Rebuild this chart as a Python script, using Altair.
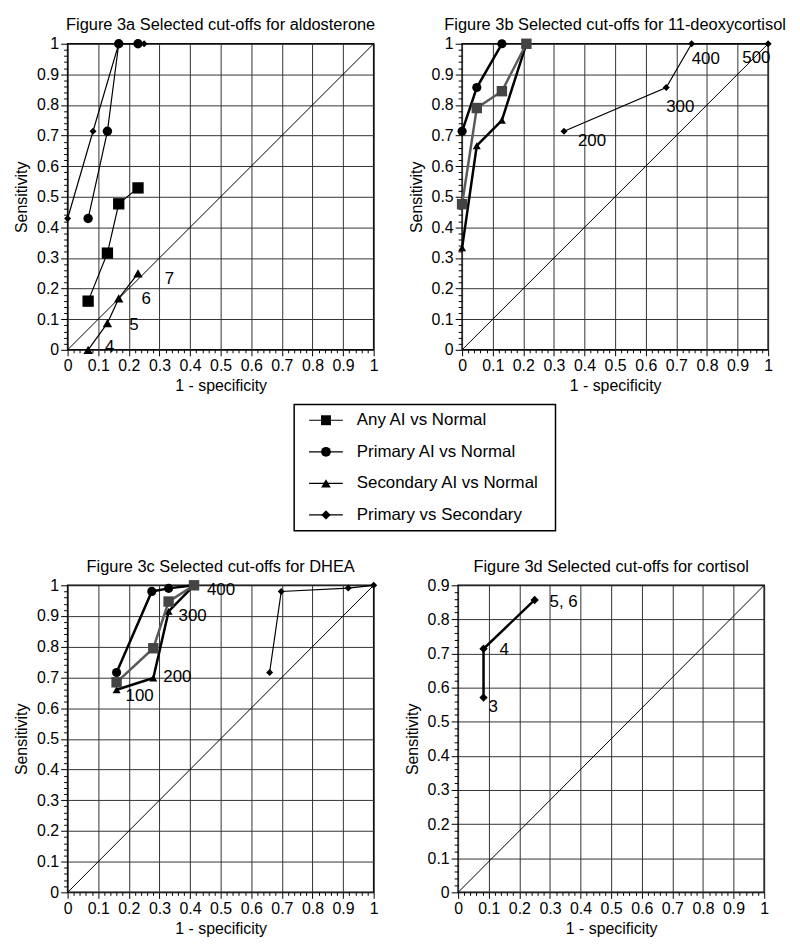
import altair as alt
import pandas as pd

FONT = "Liberation Sans"

SERIES = ["Any AI vs Normal", "Primary AI vs Normal", "Secondary AI vs Normal", "Primary vs Secondary"]
SHAPES = ["square", "circle", "triangle-up", "diamond"]

TITLE_A = "Figure 3a Selected cut-offs for aldosterone"
TITLE_B = "Figure 3b Selected cut-offs for 11-deoxycortisol"
TITLE_C = "Figure 3c Selected cut-offs for DHEA"
TITLE_D = "Figure 3d Selected cut-offs for cortisol"

# ---- Figure 3a: aldosterone ----
A_ANY_X = [0.067, 0.13, 0.167, 0.23]
A_ANY_Y = [0.159, 0.316, 0.477, 0.529]
A_PRI_X = [0.067, 0.13, 0.167, 0.23]
A_PRI_Y = [0.429, 0.714, 1.0, 1.0]
A_SEC_X = [0.067, 0.13, 0.167, 0.23]
A_SEC_Y = [0.0, 0.087, 0.168, 0.25]
A_SEC_LABELS = ["4", "5", "6", "7"]
A_PVS_X = [0.0, 0.083, 0.167, 0.25]
A_PVS_Y = [0.429, 0.714, 1.0, 1.0]

# ---- Figure 3b: 11-deoxycortisol ----
B_ANY_X = [0.0, 0.048, 0.13, 0.21]
B_ANY_Y = [0.476, 0.79, 0.845, 1.0]
B_PRI_X = [0.0, 0.048, 0.13]
B_PRI_Y = [0.714, 0.857, 1.0]
B_SEC_X = [0.0, 0.048, 0.13, 0.21]
B_SEC_Y = [0.333, 0.667, 0.75, 1.0]
B_PVS_X = [0.333, 0.667, 0.75, 1.0]
B_PVS_Y = [0.714, 0.857, 1.0, 1.0]
B_PVS_LABELS = ["200", "300", "400", "500"]

# ---- Figure 3c: DHEA ----
C_ANY_X = [0.16, 0.28, 0.33, 0.413]
C_ANY_Y = [0.684, 0.795, 0.947, 1.0]
C_PRI_X = [0.16, 0.275, 0.33, 0.413]
C_PRI_Y = [0.716, 0.98, 0.99, 1.0]
C_SEC_X = [0.16, 0.28, 0.33, 0.413]
C_SEC_Y = [0.66, 0.698, 0.915, 1.0]
C_SEC_LABELS = ["100", "200", "300", "400"]
C_PVS_X = [0.66, 0.698, 0.917, 1.0]
C_PVS_Y = [0.716, 0.98, 0.991, 1.0]

# ---- Figure 3d: cortisol ----
D_PVS_X = [0.083, 0.083, 0.25]
D_PVS_Y = [0.571, 0.714, 0.857]
D_PVS_LABELS = ["3", "4", "5, 6"]

TICKS_1 = [round(i * 0.02, 2) for i in range(51)]
TICKS_09 = [round(i * 0.02, 2) for i in range(46)]

MAJOR = "abs(round(datum.value * 50)) % 5 === 0"

PW = 308
PH = 308


def make_axis(title, values, orient):
    return alt.Axis(
        title=title,
        values=values,
        format="~g",
        labelExpr=MAJOR + " ? datum.label : ''",
        tickSize={"condition": {"test": MAJOR, "value": 7 if orient == "left" else 6}, "value": 4 if orient == "left" else 3},
        gridOpacity={"condition": {"test": MAJOR, "value": 1}, "value": 0},
        labelOverlap=False,
        labelFlush=False,
        labelPadding=2,
        titlePadding=7 if orient == "left" else 4,
        domain=False,
    )


def xy(ymax):
    ticks = TICKS_1 if ymax == 1 else TICKS_09
    x = alt.X("x:Q", scale=alt.Scale(domain=[0, 1], nice=False, zero=False),
              axis=make_axis("1 - specificity", TICKS_1, "bottom"))
    y = alt.Y("y:Q", scale=alt.Scale(domain=[0, ymax], nice=False, zero=False),
              axis=make_axis("Sensitivity", ticks, "left"))
    return x, y


def series_layer(xs, ys, shape, size, ymax, width=1.2, line_color="black", mark_color="black"):
    df = pd.DataFrame({"x": xs, "y": ys, "i": list(range(len(xs)))})
    x, y = xy(ymax)
    return alt.Chart(df).mark_line(
        color=line_color, strokeWidth=width,
        point=alt.OverlayMarkDef(shape=shape, size=size, filled=True, color=mark_color, opacity=1),
    ).encode(x=x, y=y, order="i:Q")


def diag_layer(ymax):
    df = pd.DataFrame({"x": [0, 1], "y": [0, ymax]})
    x, y = xy(ymax)
    return alt.Chart(df).mark_line(color="black", strokeWidth=1).encode(x=x, y=y)


def label_layers(xs, ys, texts, offsets, ymax):
    layers = []
    x, y = xy(ymax)
    for xv, yv, t, (dx, dy) in zip(xs, ys, texts, offsets):
        df = pd.DataFrame({"x": [xv], "y": [yv], "t": [t]})
        layers.append(
            alt.Chart(df).mark_text(align="left", baseline="middle", dx=dx, dy=dy,
                                    fontSize=17, font=FONT, color="black")
            .encode(x=x, y=y, text="t:N")
        )
    return layers


def panel(title, layers, height=PH):
    return alt.layer(*layers).properties(
        width=PW, height=height,
        title=alt.TitleParams(title, fontSize=16.5, font=FONT, fontWeight="normal",
                              anchor="middle", offset=2, color="black"),
    )


GRAY_LINE = "#5a5a5a"
GRAY_MARK = "#444444"

pa = panel(TITLE_A, [
    diag_layer(1),
    series_layer(A_PVS_X, A_PVS_Y, "diamond", 50, 1),
    series_layer(A_PRI_X, A_PRI_Y, "circle", 90, 1),
    series_layer(A_SEC_X, A_SEC_Y, "triangle-up", 90, 1),
    series_layer(A_ANY_X, A_ANY_Y, "square", 130, 1),
] + label_layers(A_SEC_X, A_SEC_Y, A_SEC_LABELS, [(17, -3), (22, 2), (23, 1), (27, 6)], 1))

pb = panel(TITLE_B, [
    diag_layer(1),
    series_layer(B_PVS_X, B_PVS_Y, "diamond", 50, 1),
    series_layer(B_PRI_X, B_PRI_Y, "circle", 85, 1, width=2.5),
    series_layer(B_SEC_X, B_SEC_Y, "triangle-up", 65, 1, width=2.5),
    series_layer(B_ANY_X, B_ANY_Y, "square", 110, 1, width=2.5, line_color=GRAY_LINE, mark_color=GRAY_MARK),
] + label_layers(B_PVS_X, B_PVS_Y, B_PVS_LABELS, [(14, 10), (0, 20), (0, 15), (-26, 14)], 1))

pc = panel(TITLE_C, [
    diag_layer(1),
    series_layer(C_PVS_X, C_PVS_Y, "diamond", 50, 1),
    series_layer(C_PRI_X, C_PRI_Y, "circle", 85, 1, width=2.5),
    series_layer(C_SEC_X, C_SEC_Y, "triangle-up", 65, 1, width=2.5),
    series_layer(C_ANY_X, C_ANY_Y, "square", 110, 1, width=2.5, line_color=GRAY_LINE, mark_color=GRAY_MARK),
] + label_layers(C_SEC_X, C_SEC_Y, C_SEC_LABELS, [(9, 6), (10, -1), (10, 5), (13, 5)], 1), height=309)

pd_ = panel(TITLE_D, [
    diag_layer(0.9),
    series_layer(D_PVS_X, D_PVS_Y, "diamond", 70, 0.9, width=2.5),
] + label_layers(D_PVS_X, D_PVS_Y, D_PVS_LABELS, [(5, 10), (16, 1), (15, 2)], 0.9), height=309)

# ---- legend ----
leg_df = pd.DataFrame({"series": SERIES})
leg_y = alt.Y("series:N", scale=alt.Scale(type="point", domain=SERIES, padding=0.5), axis=None)
leg_shape = alt.Shape("series:N", scale=alt.Scale(domain=SERIES, range=SHAPES), legend=None)
leg_size = alt.Size("series:N", scale=alt.Scale(domain=SERIES, range=[100, 90, 90, 55]), legend=None)

leg_rule = alt.Chart(leg_df).mark_rule(color="black", strokeWidth=1.2).encode(
    x=alt.value(15), x2=alt.value(49), y=leg_y)
leg_pts = alt.Chart(leg_df).mark_point(filled=True, color="black", opacity=1).encode(
    x=alt.value(32), y=leg_y, shape=leg_shape, size=leg_size)
leg_txt = alt.Chart(leg_df).mark_text(align="left", baseline="middle", fontSize=17, font=FONT,
                                      color="black").encode(x=alt.value(63), y=leg_y, text="series:N")
legend = alt.layer(leg_rule, leg_pts, leg_txt).properties(
    width=263, height=127, view=alt.ViewBackground(stroke="black", strokeWidth=1.5))

spacer = alt.Chart(pd.DataFrame({"v": [0]})).mark_point(opacity=0).encode(
    x=alt.value(0), y=alt.value(0)).properties(
    width=226, height=127, view=alt.ViewBackground(stroke="transparent"))

top = alt.hconcat(pa, pb, spacing=28)
mid = alt.hconcat(spacer, legend, spacing=0)
bot = alt.hconcat(pc, pd_, spacing=24)
upper = alt.vconcat(top, mid, spacing=6)
chart = alt.vconcat(upper, bot, spacing=26).configure(font=FONT).configure_view(
    stroke="black", strokeWidth=1.5).configure_axis(
    labelFont=FONT, labelFontSize=16, labelColor="black",
    titleFont=FONT, titleFontSize=16, titleFontWeight="normal", titleColor="black",
    tickColor="black", tickWidth=1, gridColor="#333333", gridWidth=1,
).configure_concat(spacing=0)

chart.save("out.html", embed_options={"renderer": "svg", "actions": False})
